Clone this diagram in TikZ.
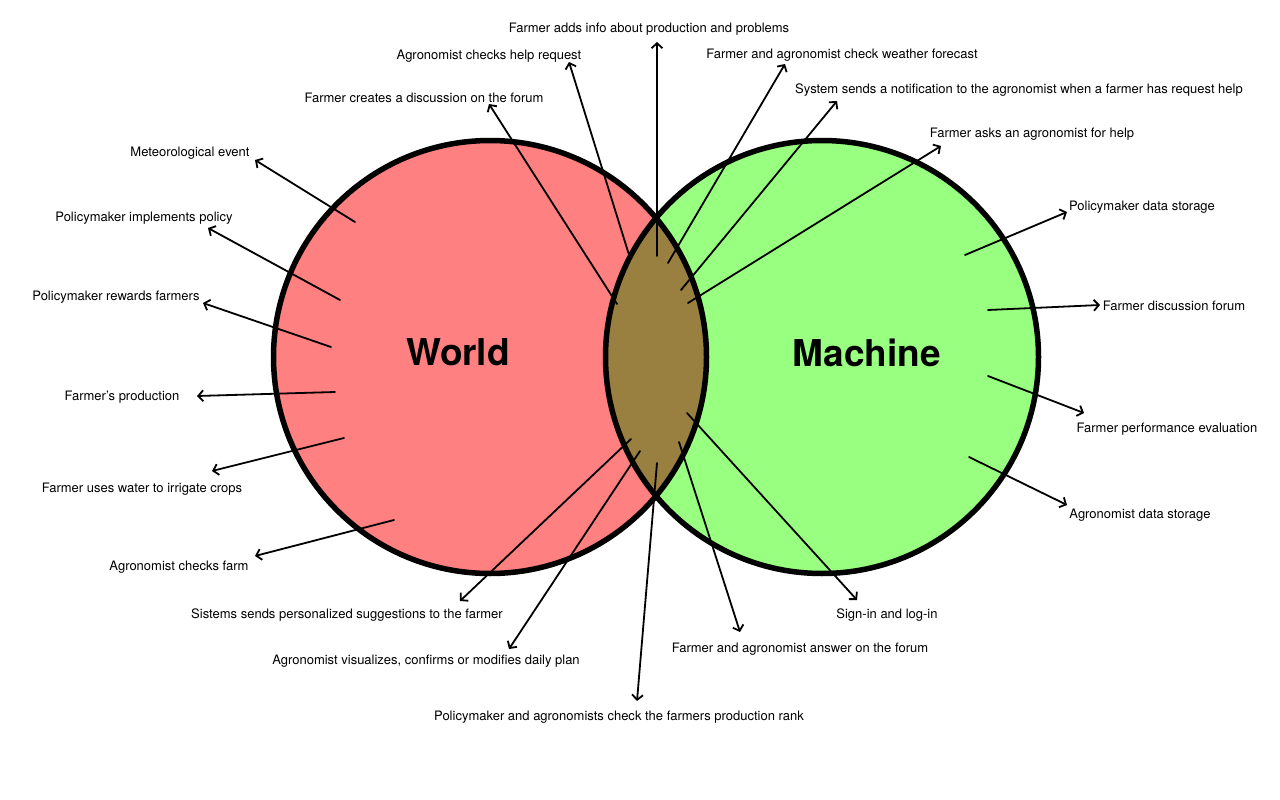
\documentclass[tikz,border=0pt]{standalone}
\usepackage{fontspec}
\setmainfont{TeX Gyre Heros}
\usetikzlibrary{arrows.meta}
\definecolor{worldred}{RGB}{255,128,128}
\definecolor{machinegreen}{RGB}{153,255,128}
\definecolor{bothbrown}{RGB}{153,128,64}
\begin{document}
\begin{tikzpicture}[line cap=round,line join=round,>={Straight Barb[length=5pt,width=11pt]},x=1pt,y=-1pt,
  txt/.style={font=\fontsize{13}{15}\selectfont, inner sep=0pt, yshift=-1.5pt},
  big/.style={font=\fontsize{37}{40}\selectfont\bfseries, inner sep=0pt},
  arr/.style={->, line width=1.8pt}]

\useasboundingbox (0,0) rectangle (1280,800);

% the two sets
\fill[worldred] (490,357) circle[radius=216.5pt];
\fill[machinegreen] (822,357) circle[radius=216.5pt];
\begin{scope}
  \clip (490,357) circle[radius=216.5pt];
  \fill[bothbrown] (822,357) circle[radius=216.5pt];
\end{scope}

\node[big] (world) at (458,352) {World};
\node[big] (machine) at (867,353) {Machine};

% world phenomena
\node[txt] (met) at (190,152) {Meteorological event};
\node[txt] (policy) at (144,217) {Policymaker implements policy};
\node[txt] (rewards) at (116,296) {Policymaker rewards farmers};
\node[txt] (prod) at (122,396) {Farmer’s production};
\node[txt] (water) at (142,488) {Farmer uses water to irrigate crops};
\node[txt] (farm) at (179,566) {Agronomist checks farm};

\coordinate (s1) at (355,222);  \coordinate (e1) at (255,160);
\coordinate (s2) at (340,300);  \coordinate (e2) at (208,228);
\coordinate (s3) at (331,347);  \coordinate (e3) at (203,303);
\coordinate (s4) at (335,392);  \coordinate (e4) at (197,396);
\coordinate (s5) at (344,438);  \coordinate (e5) at (212,471);
\coordinate (s6) at (394,520);  \coordinate (e6) at (255,556);

% shared phenomena, top
\node[txt] (forum) at (424,96) {Farmer creates a discussion on the forum};
\node[txt] (helpreq) at (489,55) {Agronomist checks help request};
\node[txt] (info) at (649,28) {Farmer adds info about production and problems};
\node[txt] (weather) at (842,54) {Farmer and agronomist check weather forecast};
\node[txt] (notify) at (1019,89) {System sends a notification to the agronomist when a farmer has request help};
\node[txt] (asks) at (1032,133) {Farmer asks an agronomist for help};

\coordinate (s7) at (617,304);  \coordinate (e7) at (489,104);
\coordinate (s8) at (630,258);  \coordinate (e8) at (569,62);
\coordinate (s9) at (657,256);  \coordinate (e9) at (657,42);
\coordinate (s10) at (668,263); \coordinate (e10) at (785,64);
\coordinate (s11) at (681,290); \coordinate (e11) at (837,101);
\coordinate (s12) at (688,303); \coordinate (e12) at (941,146);

% shared phenomena, bottom
\node[txt] (suggest) at (347,614) {Sistems sends personalized suggestions to the farmer};
\node[txt] (plan) at (426,660) {Agronomist visualizes, confirms or modifies daily plan};
\node[txt] (rank) at (619,716) {Policymaker and agronomists check the farmers production rank};
\node[txt] (answer) at (800,648) {Farmer and agronomist answer on the forum};
\node[txt] (sign) at (887,614) {Sign-in and log-in};

\coordinate (s17) at (631,439); \coordinate (e17) at (460,601);
\coordinate (s18) at (640,451); \coordinate (e18) at (509,649);
\coordinate (s19) at (657,463); \coordinate (e19) at (637,701);
\coordinate (s20) at (679,442); \coordinate (e20) at (740,632);
\coordinate (s21) at (687,413); \coordinate (e21) at (857,600);

% machine phenomena
\node[txt] (pstore) at (1142,206) {Policymaker data storage};
\node[txt] (dforum) at (1174,304) {Farmer discussion forum};
\node[txt] (perf) at (1167,428) {Farmer performance evaluation};
\node[txt] (astore) at (1140,514) {Agronomist data storage};

\coordinate (s13) at (965,255); \coordinate (e13) at (1067,212);
\coordinate (s14) at (988,310); \coordinate (e14) at (1100,305);
\coordinate (s15) at (988,376); \coordinate (e15) at (1084,413);
\coordinate (s16) at (969,457); \coordinate (e16) at (1067,505);

\draw[line width=5.5pt] (490,357) circle[radius=216.5pt];
\draw[line width=5.5pt] (822,357) circle[radius=216.5pt];

\draw[arr] (s1) -- (e1);
\draw[arr] (s2) -- (e2);
\draw[arr] (s3) -- (e3);
\draw[arr] (s4) -- (e4);
\draw[arr] (s5) -- (e5);
\draw[arr] (s6) -- (e6);
\draw[arr] (s7) -- (e7);
\draw[arr] (s8) -- (e8);
\draw[arr] (s9) -- (e9);
\draw[arr] (s10) -- (e10);
\draw[arr] (s11) -- (e11);
\draw[arr] (s12) -- (e12);
\draw[arr] (s13) -- (e13);
\draw[arr] (s14) -- (e14);
\draw[arr] (s15) -- (e15);
\draw[arr] (s16) -- (e16);
\draw[arr] (s17) -- (e17);
\draw[arr] (s18) -- (e18);
\draw[arr] (s19) -- (e19);
\draw[arr] (s20) -- (e20);
\draw[arr] (s21) -- (e21);
\end{tikzpicture}
\end{document}
